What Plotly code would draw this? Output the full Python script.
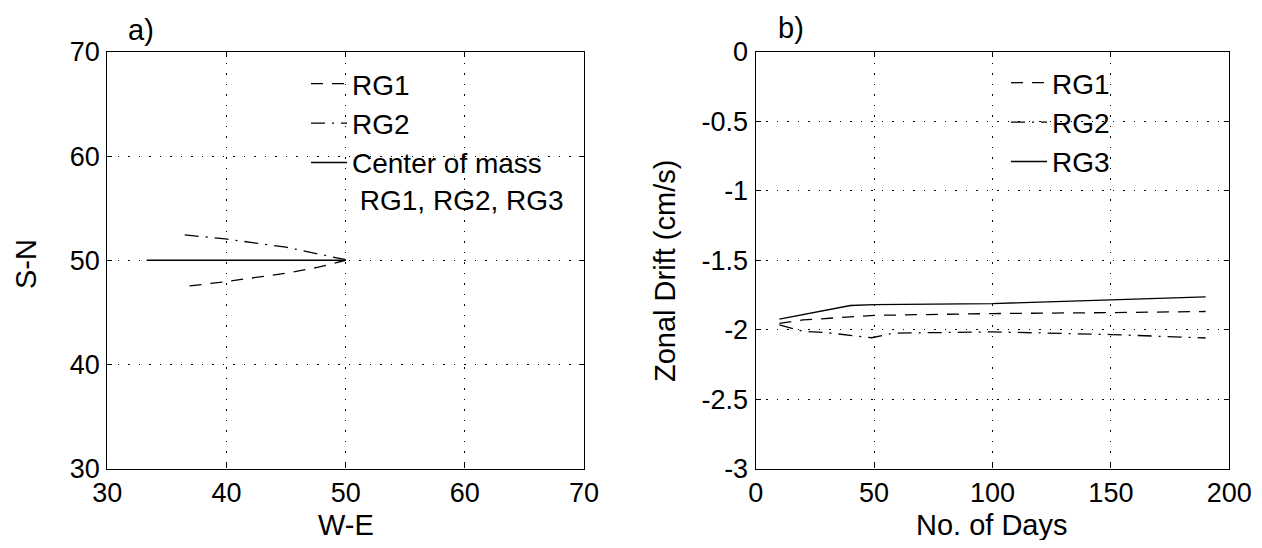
import plotly.graph_objects as go

# ---------------- data ----------------
# panel a) trajectories (W-E, S-N)
rg1_we = [36.9, 39.9, 45.0, 47.7, 50.0]
rg1_sn = [47.53, 47.94, 48.75, 49.33, 50.0]
rg2_we = [36.5, 39.9, 45.0, 50.0]
rg2_sn = [52.43, 52.05, 51.25, 50.05]
cm_we = [33.3, 50.0]
cm_sn = [50.0, 50.0]

# panel b) zonal drift vs days
days_rg1 = [10, 20, 50, 100, 150, 190]
drift_rg1 = [-1.955, -1.93, -1.897, -1.884, -1.877, -1.869]
days_rg2 = [10, 15, 20, 30, 40, 49, 58, 100, 150, 190]
drift_rg2 = [-1.965, -1.99, -2.012, -2.022, -2.04, -2.058, -2.025, -2.016, -2.035, -2.06]
days_rg3 = [10, 40, 50, 100, 150, 190]
drift_rg3 = [-1.924, -1.826, -1.819, -1.812, -1.785, -1.764]

a_ticks = [30, 40, 50, 60, 70]
b_xticks = [0, 50, 100, 150, 200]
b_yticks = [0, -0.5, -1, -1.5, -2, -2.5, -3]
b_yticklabels = ["0", "-0.5", "-1", "-1.5", "-2", "-2.5", "-3"]

# ---------------- styles ----------------
FONT = "Liberation Sans, Arial, Helvetica, sans-serif"
FS_TICK = 27
FS_TITLE = 29
FS_LEG = 28
DASH = "12px,9px"
DASHDOT = "14px,7px,2px,7px"
GRIDDASH = "1.5px,9px"
LW = 1.3

fig = go.Figure()

fig.add_trace(go.Scatter(x=rg1_we, y=rg1_sn, mode="lines", name="RG1",
                         line=dict(color="black", width=LW, dash=DASH),
                         xaxis="x", yaxis="y", legend="legend", legendgroup="a1"))
fig.add_trace(go.Scatter(x=rg2_we, y=rg2_sn, mode="lines", name="RG2",
                         line=dict(color="black", width=LW, dash=DASHDOT),
                         xaxis="x", yaxis="y", legend="legend", legendgroup="a2"))
fig.add_trace(go.Scatter(x=cm_we, y=cm_sn, mode="lines",
                         name="Center of mass<br> RG1, RG2, RG3",
                         line=dict(color="black", width=LW),
                         xaxis="x", yaxis="y", legend="legend", legendgroup="a3"))

fig.add_trace(go.Scatter(x=days_rg1, y=drift_rg1, mode="lines", name="RG1",
                         line=dict(color="black", width=LW, dash=DASH),
                         xaxis="x2", yaxis="y2", legend="legend2", legendgroup="b1"))
fig.add_trace(go.Scatter(x=days_rg2, y=drift_rg2, mode="lines", name="RG2",
                         line=dict(color="black", width=LW, dash=DASHDOT),
                         xaxis="x2", yaxis="y2", legend="legend2", legendgroup="b2"))
fig.add_trace(go.Scatter(x=days_rg3, y=drift_rg3, mode="lines", name="RG3",
                         line=dict(color="black", width=LW),
                         xaxis="x2", yaxis="y2", legend="legend2", legendgroup="b3"))

# the page body has an 8px margin; size the figure so it fits the window
OFF = 8
W, H = 1262 - 2 * OFF, 548 - 2 * OFF

def px_x(p):
    return (p - OFF) / W

def px_y(p):
    return 1 - (p - OFF) / H

axis_common = dict(
    showline=True, linecolor="black", linewidth=1.3, mirror="ticks",
    ticks="inside", ticklen=5, tickcolor="black", tickwidth=1,
    showgrid=True, gridcolor="black", gridwidth=1, griddash=GRIDDASH,
    zeroline=False, tickfont=dict(family=FONT, size=FS_TICK, color="black"),
    automargin=False,
)

ydom = [px_y(468.5), px_y(52.0)]
title_font = dict(family=FONT, size=FS_TITLE, color="black")
leg_font = dict(family=FONT, size=FS_LEG, color="black")

def label(text, x, y, angle=0):
    return dict(text=text, x=px_x(x), y=px_y(y), xref="paper", yref="paper",
                xanchor="center", yanchor="middle", textangle=angle,
                showarrow=False, font=title_font)

fig.update_layout(
    width=W, height=H,
    margin=dict(l=0, r=0, t=0, b=0),
    paper_bgcolor="white", plot_bgcolor="white",
    font=dict(family=FONT, size=FS_TICK, color="black"),
    xaxis=dict(domain=[px_x(107.3), px_x(584.0)], range=[30, 70],
               tickvals=a_ticks, anchor="y", ticklabelstandoff=0,
               **axis_common),
    yaxis=dict(domain=ydom, range=[30, 70], tickvals=a_ticks, anchor="x",
               ticklabelstandoff=1, **axis_common),
    xaxis2=dict(domain=[px_x(755.7), px_x(1229.3)], range=[0, 200],
                tickvals=b_xticks, anchor="y2", ticklabelstandoff=0,
                **axis_common),
    yaxis2=dict(domain=ydom, range=[-3, 0], tickvals=b_yticks,
                ticktext=b_yticklabels, anchor="x2", ticklabelstandoff=1,
                **axis_common),
    legend=dict(x=px_x(306), y=px_y(59), xanchor="left", yanchor="top",
                bgcolor="rgba(0,0,0,0)", borderwidth=0, font=leg_font,
                tracegroupgap=0, valign="top", itemwidth=36,
                traceorder="normal"),
    legend2=dict(x=px_x(1006), y=px_y(58), xanchor="left", yanchor="top",
                 bgcolor="rgba(0,0,0,0)", borderwidth=0, font=leg_font,
                 tracegroupgap=0, valign="top", itemwidth=36,
                 traceorder="normal"),
    annotations=[
        label("a)", 141, 30),
        label("b)", 791, 28),
        label("W-E", 346, 525),
        label("No. of Days", 992, 525),
        label("S-N", 26, 264, -90),
        label("Zonal Drift (cm/s)", 664.5, 271.5, -90),
    ],
)

fig.write_html("out.html")
